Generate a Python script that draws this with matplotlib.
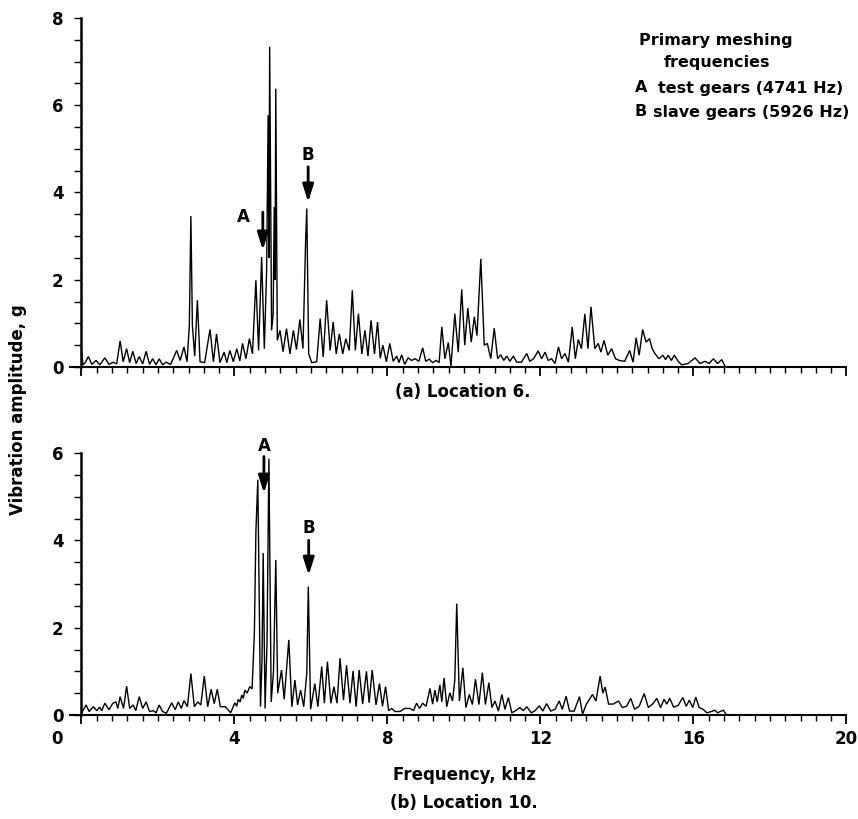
import matplotlib
matplotlib.use("Agg")
import matplotlib.pyplot as plt
import matplotlib.transforms as mtransforms
import numpy as np

plt.rcParams['font.family'] = ['DejaVu Sans']
plt.rcParams['font.weight'] = 'bold'

# ---------------- data (frequency kHz, amplitude g) ----------------
trace_a = [
    (0.00, 0.35), (0.04, 0.05), (0.10, 0.10), (0.18, 0.24), (0.27, 0.06), (0.38, 0.15),
    (0.48, 0.05), (0.61, 0.21), (0.72, 0.06), (0.83, 0.11), (0.92, 0.07), (1.01, 0.60),
    (1.09, 0.12), (1.18, 0.42), (1.26, 0.10), (1.34, 0.36), (1.43, 0.08), (1.51, 0.24),
    (1.60, 0.07), (1.69, 0.36), (1.78, 0.06), (1.86, 0.19), (1.95, 0.05), (2.03, 0.19),
    (2.12, 0.05), (2.21, 0.11), (2.33, 0.06), (2.49, 0.38), (2.58, 0.15), (2.68, 0.46),
    (2.76, 0.12), (2.82, 0.96), (2.86, 3.46), (2.90, 0.95), (2.96, 0.25), (3.03, 1.53),
    (3.10, 0.12), (3.22, 0.10), (3.36, 0.86), (3.45, 0.12), (3.53, 0.76), (3.62, 0.10),
    (3.73, 0.34), (3.80, 0.10), (3.88, 0.38), (3.97, 0.12), (4.06, 0.42), (4.14, 0.14),
    (4.21, 0.54), (4.30, 0.19), (4.39, 0.65), (4.47, 0.30), (4.56, 1.99), (4.63, 0.38),
    (4.71, 2.52), (4.78, 0.42), (4.84, 2.20), (4.88, 5.77), (4.90, 2.50), (4.92, 7.34),
    (4.97, 0.84), (5.01, 1.20), (5.04, 3.67), (5.06, 2.00), (5.08, 6.38), (5.12, 0.61),
    (5.19, 0.84), (5.27, 0.35), (5.36, 0.88), (5.45, 0.30), (5.54, 0.84), (5.62, 0.40),
    (5.71, 1.09), (5.79, 0.42), (5.86, 2.90), (5.89, 3.63), (5.94, 0.30), (6.02, 0.10),
    (6.15, 0.12), (6.24, 1.11), (6.32, 0.23), (6.41, 1.53), (6.50, 0.38), (6.58, 1.03),
    (6.66, 0.30), (6.74, 0.76), (6.83, 0.30), (6.91, 0.65), (7.00, 0.38), (7.08, 1.76),
    (7.16, 0.38), (7.24, 1.22), (7.33, 0.30), (7.41, 0.84), (7.49, 0.25), (7.57, 1.07),
    (7.66, 0.30), (7.74, 1.03), (7.81, 0.20), (7.88, 0.50), (7.97, 0.12), (8.06, 0.54),
    (8.15, 0.13), (8.24, 0.25), (8.30, 0.10), (8.37, 0.28), (8.45, 0.06), (8.54, 0.21),
    (8.63, 0.15), (8.72, 0.19), (8.82, 0.13), (8.92, 0.44), (9.00, 0.13), (9.09, 0.18),
    (9.18, 0.10), (9.27, 0.15), (9.35, 0.10), (9.42, 0.92), (9.50, 0.19), (9.59, 0.56),
    (9.66, 0.02), (9.76, 1.22), (9.85, 0.34), (9.94, 1.78), (10.02, 0.50), (10.10, 1.35),
    (10.19, 0.57), (10.27, 1.15), (10.34, 0.72), (10.44, 2.48), (10.53, 0.50), (10.61, 0.54),
    (10.70, 0.19), (10.79, 0.89), (10.88, 0.19), (10.96, 0.28), (11.04, 0.15), (11.12, 0.25),
    (11.20, 0.13), (11.29, 0.25), (11.38, 0.11), (11.50, 0.11), (11.64, 0.31), (11.72, 0.13),
    (11.82, 0.19), (11.94, 0.37), (12.03, 0.19), (12.12, 0.34), (12.20, 0.15), (12.29, 0.19),
    (12.38, 0.08), (12.47, 0.46), (12.55, 0.19), (12.64, 0.31), (12.73, 0.11), (12.83, 0.92),
    (12.91, 0.19), (12.99, 0.63), (13.07, 0.42), (13.16, 1.22), (13.24, 0.42), (13.32, 1.38),
    (13.42, 0.42), (13.51, 0.54), (13.58, 0.34), (13.66, 0.61), (13.76, 0.27), (13.86, 0.42),
    (13.96, 0.19), (14.06, 0.15), (14.20, 0.13), (14.33, 0.38), (14.42, 0.11), (14.50, 0.67),
    (14.58, 0.27), (14.67, 0.86), (14.76, 0.57), (14.85, 0.65), (14.92, 0.42), (14.99, 0.31),
    (15.10, 0.19), (15.20, 0.27), (15.27, 0.17), (15.34, 0.27), (15.42, 0.15), (15.50, 0.27),
    (15.60, 0.13), (15.69, 0.05), (15.86, 0.08), (16.04, 0.21), (16.17, 0.08), (16.30, 0.13),
    (16.41, 0.08), (16.52, 0.19), (16.63, 0.08), (16.74, 0.17), (16.82, 0.02), (16.90, 0.00),
]

trace_b = [
    (0.00, 0.04), (0.12, 0.23), (0.20, 0.08), (0.31, 0.19), (0.40, 0.10), (0.47, 0.18),
    (0.53, 0.10), (0.61, 0.27), (0.72, 0.12), (0.82, 0.27), (0.90, 0.30), (0.95, 0.15),
    (1.01, 0.42), (1.10, 0.15), (1.18, 0.66), (1.26, 0.15), (1.35, 0.23), (1.42, 0.10),
    (1.51, 0.42), (1.60, 0.15), (1.69, 0.30), (1.78, 0.08), (1.88, 0.10), (1.95, 0.05),
    (2.03, 0.23), (2.12, 0.08), (2.22, 0.04), (2.36, 0.28), (2.45, 0.12), (2.53, 0.30),
    (2.61, 0.15), (2.68, 0.33), (2.77, 0.19), (2.86, 0.95), (2.95, 0.19), (3.04, 0.30),
    (3.12, 0.23), (3.21, 0.89), (3.30, 0.19), (3.39, 0.59), (3.47, 0.26), (3.55, 0.59),
    (3.63, 0.19), (3.76, 0.19), (3.90, 0.05), (4.01, 0.28), (4.06, 0.20), (4.10, 0.36),
    (4.15, 0.30), (4.19, 0.46), (4.23, 0.38), (4.27, 0.57), (4.33, 0.50), (4.40, 0.65),
    (4.46, 0.60), (4.52, 1.87), (4.56, 4.20), (4.61, 5.39), (4.68, 0.19), (4.72, 1.26),
    (4.75, 3.71), (4.80, 0.15), (4.85, 1.64), (4.90, 5.87), (4.96, 0.30), (5.02, 1.00),
    (5.08, 3.55), (5.13, 0.50), (5.23, 1.03), (5.30, 0.36), (5.42, 1.72), (5.50, 0.19),
    (5.58, 0.80), (5.65, 0.23), (5.73, 0.57), (5.81, 0.19), (5.89, 0.95), (5.93, 2.94),
    (5.99, 0.13), (6.10, 0.72), (6.18, 0.19), (6.28, 1.11), (6.35, 0.27), (6.43, 1.22),
    (6.52, 0.27), (6.60, 0.65), (6.68, 0.27), (6.76, 1.30), (6.85, 0.34), (6.93, 1.14),
    (7.02, 0.27), (7.10, 1.01), (7.18, 0.19), (7.26, 1.03), (7.35, 0.25), (7.45, 1.00),
    (7.52, 0.28), (7.60, 1.03), (7.70, 0.23), (7.79, 0.72), (7.87, 0.20), (7.95, 0.65),
    (8.03, 0.10), (8.11, 0.15), (8.20, 0.08), (8.33, 0.08), (8.45, 0.15), (8.59, 0.15),
    (8.68, 0.10), (8.76, 0.27), (8.84, 0.15), (8.92, 0.27), (9.01, 0.20), (9.11, 0.61),
    (9.18, 0.25), (9.24, 0.57), (9.30, 0.30), (9.37, 0.69), (9.42, 0.30), (9.48, 0.85),
    (9.55, 0.19), (9.63, 0.51), (9.70, 0.32), (9.76, 0.80), (9.81, 2.55), (9.88, 0.32),
    (9.97, 1.08), (10.05, 0.17), (10.14, 0.47), (10.22, 0.24), (10.30, 0.82), (10.39, 0.24),
    (10.48, 0.97), (10.56, 0.24), (10.65, 0.74), (10.73, 0.17), (10.81, 0.32), (10.90, 0.09),
    (10.99, 0.47), (11.07, 0.13), (11.16, 0.40), (11.25, 0.05), (11.35, 0.10), (11.46, 0.17),
    (11.55, 0.10), (11.64, 0.19), (11.76, 0.05), (11.86, 0.10), (11.97, 0.21), (12.06, 0.09),
    (12.16, 0.26), (12.27, 0.09), (12.38, 0.13), (12.49, 0.32), (12.57, 0.13), (12.67, 0.43),
    (12.76, 0.09), (12.88, 0.09), (13.02, 0.42), (13.10, 0.02), (13.20, 0.25), (13.36, 0.47),
    (13.45, 0.32), (13.56, 0.89), (13.63, 0.50), (13.69, 0.64), (13.78, 0.25), (13.90, 0.25),
    (14.04, 0.32), (14.14, 0.17), (14.25, 0.20), (14.36, 0.38), (14.46, 0.13), (14.58, 0.20),
    (14.71, 0.49), (14.82, 0.17), (14.93, 0.25), (15.04, 0.38), (15.14, 0.17), (15.23, 0.36),
    (15.30, 0.25), (15.38, 0.38), (15.48, 0.18), (15.60, 0.22), (15.72, 0.40), (15.81, 0.20),
    (15.89, 0.34), (15.98, 0.17), (16.06, 0.41), (16.15, 0.17), (16.25, 0.13), (16.35, 0.05),
    (16.47, 0.08), (16.56, 0.11), (16.63, 0.05), (16.70, 0.08), (16.78, 0.11), (16.85, 0.02),
    (16.90, 0.00),
]

x_tick_labels = ['0', '4', '8', '12', '16', '20']
y_ticks_a = [0, 2, 4, 6, 8]
y_ticks_b = [0, 2, 4, 6]

mesh_A = 4.741   # test gears, kHz
mesh_B = 5.926   # slave gears, kHz

# ---------------- figure ----------------
W, H = 858, 819
fig = plt.figure(figsize=(W / 100, H / 100), dpi=100)

def px(x, y):
    return x / W, 1 - y / H

x_left_px = 70.0
x_right_px = 846.5
ax_a = fig.add_axes([x_left_px / W, 1 - 367 / H, (x_right_px - x_left_px) / W, (367 - 18) / H])
ax_b = fig.add_axes([x_left_px / W, 1 - 715 / H, (x_right_px - x_left_px) / W, (715 - 453) / H])

FS = 12
FS_NOTE = 11.5

for ax, trace, yt, ytop in [(ax_a, trace_a, y_ticks_a, 8), (ax_b, trace_b, y_ticks_b, 6)]:
    f, a = zip(*trace)
    ax.plot(f, a, color='black', lw=1.0, solid_joinstyle='miter')
    ax.set_xlim(-0.3, 20)
    ax.set_ylim(0, ytop)
    for s in ['top', 'right']:
        ax.spines[s].set_visible(False)
    ax.spines['left'].set_position(('data', 0))
    ax.spines['left'].set_linewidth(1.8)
    ax.spines['bottom'].set_linewidth(1.5)
    ax.set_xticks([0, 4, 8, 12, 16, 20])
    ax.set_xticks(np.arange(0, 20.01, 0.4), minor=True)
    ax.set_yticks(yt)
    ax.set_yticks(np.arange(0, ytop + 0.01, 0.5), minor=True)
    ax.tick_params(axis='x', which='major', direction='out', length=6.5, width=1.3, pad=4)
    ax.tick_params(axis='x', which='minor', direction='out', length=4.2, width=1.0)
    ax.tick_params(axis='y', which='both', direction='out', length=5, width=1.0, pad=8)
    ax.set_yticklabels([str(v) for v in yt], fontsize=FS, fontweight='bold')
    ax.patch.set_visible(False)

ax_a.set_xticklabels([''] * 6)
ax_b.set_xticklabels(x_tick_labels, fontsize=FS, fontweight='bold')
lbl0 = ax_b.get_xticklabels()[0]
lbl0.set_transform(lbl0.get_transform() + mtransforms.ScaledTranslation(-0.245, 0, fig.dpi_scale_trans))

arrow_kw = dict(arrowstyle='-|>,head_length=0.7,head_width=0.22', color='black', lw=2.0,
                mutation_scale=15, shrinkA=0, shrinkB=0)

# top panel arrows
ax_a.annotate('', xy=(mesh_A, 2.68), xytext=(mesh_A, 3.55), arrowprops=arrow_kw)
ax_a.text(4.22, 3.44, 'A', ha='center', va='center', fontsize=FS, fontweight='bold')
ax_a.annotate('', xy=(mesh_B, 3.78), xytext=(mesh_B, 4.59), arrowprops=arrow_kw)
ax_a.text(5.93, 4.86, 'B', ha='center', va='center', fontsize=FS, fontweight='bold')

# bottom panel arrows
ax_b.annotate('', xy=(4.77, 5.08), xytext=(4.77, 5.92), arrowprops=arrow_kw, annotation_clip=False)
ax_b.text(4.79, 6.16, 'A', ha='center', va='center', fontsize=FS, fontweight='bold', clip_on=False)
ax_b.annotate('', xy=(5.94, 3.2), xytext=(5.94, 4.0), arrowprops=arrow_kw)
ax_b.text(5.95, 4.28, 'B', ha='center', va='center', fontsize=FS, fontweight='bold')

# legend-like notes
fig.text(*px(716, 40), 'Primary meshing', ha='center', va='center', fontsize=FS_NOTE, fontweight='bold')
fig.text(*px(717, 63), 'frequencies', ha='center', va='center', fontsize=FS_NOTE, fontweight='bold')
fig.text(*px(635, 88), 'A', ha='left', va='center', fontsize=FS_NOTE, fontweight='bold')
fig.text(*px(658, 88), 'test gears (4741 Hz)', ha='left', va='center', fontsize=FS_NOTE, fontweight='bold')
fig.text(*px(635, 112), 'B', ha='left', va='center', fontsize=FS_NOTE, fontweight='bold')
fig.text(*px(653, 112), 'slave gears (5926 Hz)', ha='left', va='center', fontsize=FS_NOTE, fontweight='bold')

# captions / labels
fig.text(*px(463, 392), '(a) Location 6.', ha='center', va='center', fontsize=FS, fontweight='bold')
fig.text(*px(464, 775), 'Frequency, kHz', ha='center', va='center', fontsize=FS, fontweight='bold')
fig.text(*px(464, 803), '(b) Location 10.', ha='center', va='center', fontsize=FS, fontweight='bold')
fig.text(*px(18, 410), 'Vibration amplitude, g', ha='center', va='center', rotation=90,
         fontsize=FS, fontweight='bold')

fig.savefig('out.png', dpi=100, facecolor='white')
